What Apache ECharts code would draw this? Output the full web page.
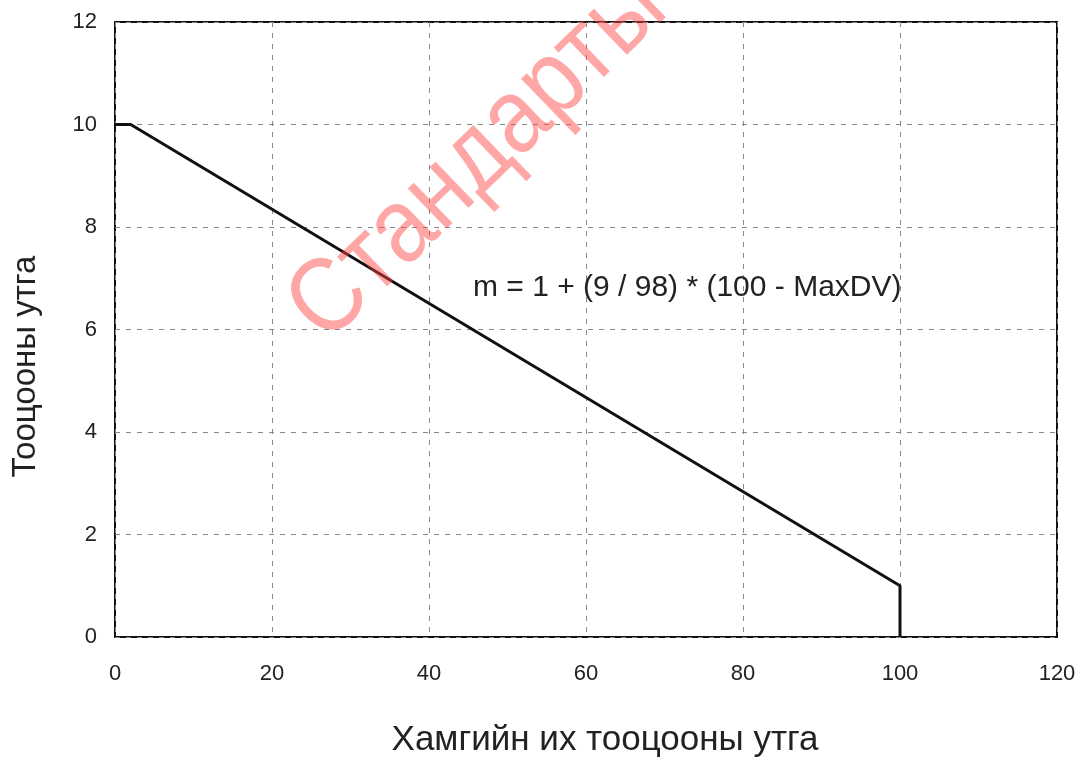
<!DOCTYPE html>
<html>
<head>
<meta charset="utf-8">
<script src="https://cdn.jsdelivr.net/npm/echarts@6/dist/echarts.min.js"></script>
<style>
  html, body { margin: 0; padding: 0; background: #fff; }
  #chart { width: 1079px; height: 758px; }
</style>
</head>
<body>
<div id="chart"></div>
<script>
// Data
const linePoints = [[0, 10], [2, 10], [100, 1], [100, 0]];
const xTicks = [0, 20, 40, 60, 80, 100, 120];
const yTicks = [0, 2, 4, 6, 8, 10, 12];
const formulaText = 'm = 1 + (9 / 98) * (100 - MaxDV)';
const xName = 'Хамгийн их тооцооны утга';
const yName = 'Тооцооны утга';
const watermark = 'Стандарты';

const chart = echarts.init(document.getElementById('chart'));
const font = '"Liberation Sans", Arial, sans-serif';

const option = {
    animation: false,
    grid: {
        left: 115,
        right: 22,
        top: 22,
        bottom: 121,
        outerBoundsMode: 'none',
        show: true,
        borderColor: '#111',
        borderWidth: 2
    },
    xAxis: {
        type: 'value',
        min: xTicks[0],
        max: xTicks[xTicks.length - 1],
        interval: 20,
        name: xName,
        nameLocation: 'middle',
        nameGap: 86,
        nameTextStyle: { fontFamily: font, fontSize: 35, color: '#222', padding: [0, 0, 0, 38] },
        axisLine: { show: false },
        axisTick: { show: false },
        axisLabel: { fontFamily: font, fontSize: 22, color: '#222', margin: 26 },
        splitLine: { lineStyle: { color: '#888', type: [5, 6], width: 1 } }
    },
    yAxis: {
        type: 'value',
        min: yTicks[0],
        max: yTicks[yTicks.length - 1],
        interval: 2,
        name: yName,
        nameLocation: 'middle',
        nameGap: 73,
        nameTextStyle: { fontFamily: font, fontSize: 33, color: '#222', padding: [0, 74, 0, 0] },
        axisLine: { show: false },
        axisTick: { show: false },
        axisLabel: { fontFamily: font, fontSize: 22, color: '#222', margin: 18 },
        splitLine: { lineStyle: { color: '#888', type: [5, 6], width: 1 } }
    },
    series: [{
        type: 'line',
        data: linePoints,
        symbol: 'none',
        lineStyle: { color: '#111', width: 3 },
        z: 3
    }],
    graphic: [
        {
            type: 'text',
            x: 473,
            y: 288,
            style: {
                text: formulaText,
                font: '30px ' + font,
                fill: '#222',
                textVerticalAlign: 'middle'
            },
            z: 10
        },
        {
            type: 'text',
            x: 306,
            y: 324,
            rotation: 44 * Math.PI / 180,
            scaleX: 0.88,
            style: {
                text: watermark,
                font: '106px ' + font,
                fill: 'rgba(255, 65, 65, 0.47)',
                textVerticalAlign: 'middle'
            },
            z: 20
        }
    ]
};

chart.setOption(option);
</script>
</body>
</html>
